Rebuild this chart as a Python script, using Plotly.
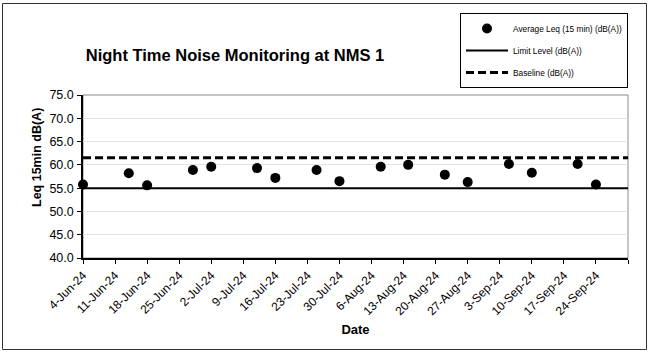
import plotly.graph_objects as go

# Night-time Leq readings at NMS 1
sample_dates = [
    "2024-06-04", "2024-06-14", "2024-06-18", "2024-06-28", "2024-07-02",
    "2024-07-12", "2024-07-16", "2024-07-25", "2024-07-30", "2024-08-08",
    "2024-08-14", "2024-08-22", "2024-08-27", "2024-09-05", "2024-09-10",
    "2024-09-20", "2024-09-24",
]
leq_values = [
    55.8, 58.2, 55.6, 58.9, 59.6,
    59.3, 57.2, 58.9, 56.5, 59.6,
    60.0, 57.9, 56.3, 60.2, 58.3,
    60.2, 55.8,
]

limit_level = 55.0
baseline_level = 61.5

# weekly ticks on the date axis
tick_dates = [
    "2024-06-04", "2024-06-11", "2024-06-18", "2024-06-25", "2024-07-02",
    "2024-07-09", "2024-07-16", "2024-07-23", "2024-07-30", "2024-08-06",
    "2024-08-13", "2024-08-20", "2024-08-27", "2024-09-03", "2024-09-10",
    "2024-09-17", "2024-09-24", "2024-10-01",
]
tick_labels = [
    "4-Jun-24", "11-Jun-24", "18-Jun-24", "25-Jun-24", "2-Jul-24",
    "9-Jul-24", "16-Jul-24", "23-Jul-24", "30-Jul-24", "6-Aug-24",
    "13-Aug-24", "20-Aug-24", "27-Aug-24", "3-Sep-24", "10-Sep-24",
    "17-Sep-24", "24-Sep-24", "",
]

x_start, x_end = tick_dates[0], tick_dates[-1]
FONT = "Liberation Sans, Arial, sans-serif"
PLOT_W, PLOT_H = 545, 163

fig = go.Figure()

fig.add_trace(go.Scatter(
    x=sample_dates, y=leq_values, mode="markers",
    name="Average Leq (15 min) (dB(A))",
    marker=dict(color="black", size=10),
    cliponaxis=False, legendgroup="a",
))
fig.add_trace(go.Scatter(
    x=[x_start, x_end], y=[limit_level, limit_level], mode="lines",
    name="Limit Level (dB(A))",
    line=dict(color="black", width=2),
    legendgroup="b",
))
fig.add_trace(go.Scatter(
    x=[x_start, x_end], y=[baseline_level, baseline_level], mode="lines",
    name="Baseline (dB(A))",
    line=dict(color="black", width=3, dash="8px,4px"),
    legendgroup="c",
))

# plot-area border (grey) and outer chart frame
fig.add_shape(type="rect", xref="x domain", yref="y domain",
              x0=0, x1=1, y0=0, y1=1,
              line=dict(color="#8a8a8a", width=1), layer="below")
fig.add_shape(type="rect", xref="paper", yref="paper",
              x0=-80.5 / PLOT_W, x1=563.5 / PLOT_W,
              y0=-91.5 / PLOT_H, y1=254.5 / PLOT_H,
              line=dict(color="#333333", width=1))

# vertical axis title, placed a little above the axis centre
fig.add_annotation(
    text="<b>Leq 15min dB(A)</b>", textangle=-90,
    xref="paper", yref="paper",
    x=-46 / PLOT_W, y=(258 - 158) / PLOT_H,
    xanchor="center", yanchor="middle", showarrow=False,
    font=dict(size=12.5, family=FONT, color="black"),
)

fig.update_layout(
    width=649, height=352,
    margin=dict(l=83, r=21, t=95, b=94),
    paper_bgcolor="white", plot_bgcolor="white",
    font=dict(family=FONT, color="black"),
    title=dict(
        text="<b>Night Time Noise Monitoring at NMS 1</b>",
        font=dict(size=16.5, family=FONT, color="black"),
        x=235 / 649, xanchor="center", xref="container",
        y=1 - 55 / 352, yanchor="middle", yref="container",
    ),
    showlegend=True,
    legend=dict(
        x=1.0, xanchor="right", y=(258 - 13) / PLOT_H, yanchor="top",
        bordercolor="black", borderwidth=1, bgcolor="white",
        font=dict(size=8.3, family=FONT, color="black"),
        traceorder="grouped", tracegroupgap=3, itemwidth=42,
    ),
    xaxis=dict(
        type="date", range=[x_start, x_end],
        tickvals=tick_dates, ticktext=tick_labels, tickangle=-45,
        tickfont=dict(size=12, family=FONT, color="black"),
        ticks="outside", ticklen=4, tickcolor="black", tickwidth=1,
        showgrid=False, zeroline=False,
        showline=True, linecolor="black", linewidth=1.5,
        title=dict(text="<b>Date</b>", font=dict(size=13, family=FONT, color="black"),
                   standoff=8),
    ),
    yaxis=dict(
        range=[40, 75], dtick=5, tick0=40, tickformat=".1f",
        tickfont=dict(size=12.5, family=FONT, color="black"),
        ticks="outside", ticklen=4, tickcolor="black", tickwidth=1,
        ticklabelstandoff=1,
        showgrid=True, gridcolor="#e3e3e3", gridwidth=1, zeroline=False,
        showline=True, linecolor="black", linewidth=1.5,
    ),
)

fig.write_html("out.html")
